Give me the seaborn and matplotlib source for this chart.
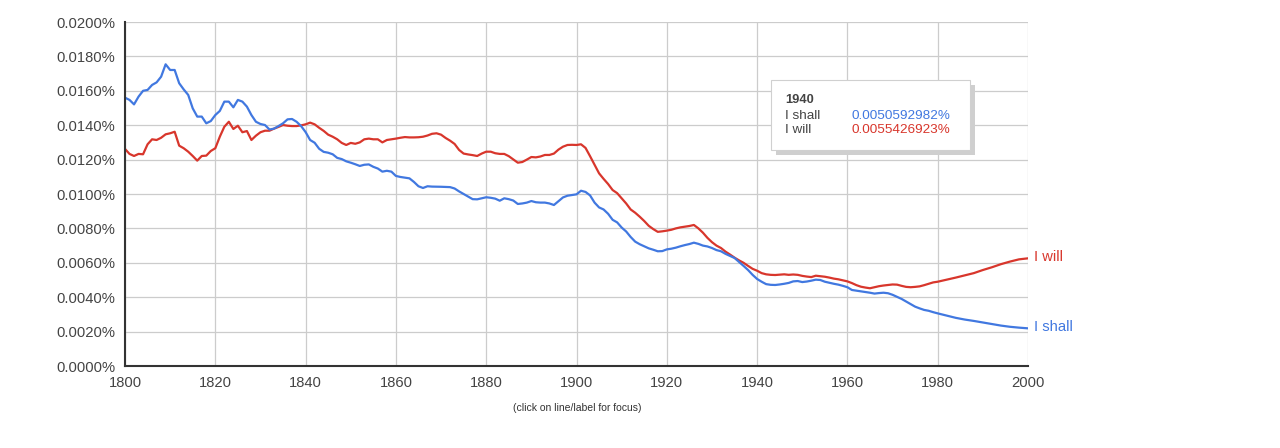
import matplotlib
matplotlib.use("Agg")
import matplotlib.pyplot as plt
from matplotlib.patches import Rectangle
from matplotlib.ticker import FuncFormatter, MultipleLocator
import seaborn as sns
import pandas as pd

# ---- data (values in percent) ----
shall_years = list(range(1800, 1869)) + [1870] + list(range(1872, 1981)) + list(range(1982, 2001, 2))
shall_vals = [
    0.01560, 0.01547, 0.01521, 0.01566, 0.01600, 0.01605, 0.01634, 0.01649, 0.01682, 0.01754,
    0.01721, 0.01721, 0.01644, 0.01608, 0.01576, 0.01498, 0.01450, 0.01450, 0.01411, 0.01424,
    0.01459, 0.01483, 0.01537, 0.01537, 0.01504, 0.01547, 0.01537, 0.01508, 0.01459, 0.01420,
    0.01407, 0.01401, 0.01375, 0.01380, 0.01395, 0.01411, 0.01434, 0.01436, 0.01420, 0.01395,
    0.01360, 0.01314, 0.01298, 0.01263, 0.01245, 0.01240, 0.01231, 0.01210, 0.01203, 0.01190,
    0.01182, 0.01173, 0.01163, 0.01170, 0.01172, 0.01158, 0.01148, 0.01130, 0.01135, 0.01130,
    0.01105, 0.01099, 0.01095, 0.01091, 0.01070, 0.01045, 0.01035, 0.01045, 0.01043,
    0.01042,
    0.01040, 0.01032, 0.01015, 0.01000, 0.00985, 0.00970, 0.00969, 0.00975,
    0.00981, 0.00978, 0.00973, 0.00961, 0.00975, 0.00970, 0.00962, 0.00942, 0.00945, 0.00950,
    0.00959, 0.00952, 0.00950, 0.00950, 0.00945, 0.00936, 0.00958, 0.00980, 0.00990, 0.00994,
    0.00998, 0.01019, 0.01012, 0.00992, 0.00950, 0.00922, 0.00910, 0.00885, 0.00850, 0.00835,
    0.00805, 0.00782, 0.00750, 0.00723, 0.00708, 0.00696, 0.00684, 0.00676, 0.00667, 0.00668,
    0.00678, 0.00682, 0.00688, 0.00696, 0.00703, 0.00709, 0.00717, 0.00710, 0.00700, 0.00695,
    0.00686, 0.00674, 0.00667, 0.00652, 0.00640, 0.00628, 0.00605, 0.00582, 0.00558, 0.00530,
    0.00506, 0.00490, 0.00476, 0.00472, 0.00471, 0.00474, 0.00478, 0.00483, 0.00492, 0.00494,
    0.00488, 0.00491, 0.00496, 0.00502, 0.00500, 0.00490, 0.00484, 0.00478, 0.00473, 0.00466,
    0.00458, 0.00442, 0.00438, 0.00434, 0.00430, 0.00426, 0.00421, 0.00424, 0.00426, 0.00423,
    0.00414, 0.00402, 0.00390, 0.00375, 0.00360, 0.00345, 0.00335, 0.00326, 0.00321, 0.00313,
    0.00306,
    0.00293, 0.00280, 0.00270, 0.00262, 0.00253, 0.00244, 0.00235, 0.00228, 0.00223, 0.00219,
]

will_years = list(range(1800, 1981)) + list(range(1982, 2001, 2))
will_vals = [
    0.01262, 0.01233, 0.01221, 0.01233, 0.01231, 0.01289, 0.01318, 0.01314, 0.01327, 0.01347,
    0.01353, 0.01362, 0.01281, 0.01266, 0.01246, 0.01221, 0.01194, 0.01221, 0.01223, 0.01250,
    0.01266, 0.01333, 0.01391, 0.01420, 0.01378, 0.01397, 0.01359, 0.01366, 0.01314, 0.01339,
    0.01359, 0.01368, 0.01368, 0.01380, 0.01390, 0.01401, 0.01397, 0.01395, 0.01395, 0.01399,
    0.01405, 0.01415, 0.01405, 0.01385, 0.01367, 0.01345, 0.01333, 0.01318, 0.01297, 0.01285,
    0.01297, 0.01292, 0.01300, 0.01318, 0.01322, 0.01318, 0.01318, 0.01300, 0.01314, 0.01318,
    0.01322, 0.01327, 0.01331, 0.01329, 0.01329, 0.01330, 0.01333, 0.01340, 0.01350, 0.01353,
    0.01345, 0.01326, 0.01310, 0.01291, 0.01256, 0.01235, 0.01230, 0.01226, 0.01221, 0.01235,
    0.01246, 0.01246, 0.01237, 0.01233, 0.01233, 0.01220, 0.01201, 0.01182, 0.01186, 0.01200,
    0.01215, 0.01213, 0.01218, 0.01227, 0.01227, 0.01235, 0.01258, 0.01275, 0.01285, 0.01286,
    0.01285, 0.01289, 0.01268, 0.01220, 0.01170, 0.01120, 0.01088, 0.01058, 0.01023, 0.01005,
    0.00975, 0.00945, 0.00910, 0.00891, 0.00868, 0.00843, 0.00815, 0.00796, 0.00780, 0.00783,
    0.00787, 0.00792, 0.00800, 0.00806, 0.00810, 0.00814, 0.00820, 0.00800, 0.00775, 0.00745,
    0.00720, 0.00700, 0.00686, 0.00665, 0.00648, 0.00630, 0.00614, 0.00600, 0.00582, 0.00565,
    0.00554, 0.00540, 0.00533, 0.00530, 0.00529, 0.00531, 0.00533, 0.00530, 0.00532, 0.00530,
    0.00524, 0.00520, 0.00517, 0.00525, 0.00522, 0.00519, 0.00514, 0.00508, 0.00504, 0.00498,
    0.00492, 0.00482, 0.00470, 0.00461, 0.00456, 0.00452, 0.00458, 0.00464, 0.00468, 0.00471,
    0.00474, 0.00473, 0.00466, 0.00460, 0.00458, 0.00460, 0.00463, 0.00470, 0.00478, 0.00486,
    0.00490,
    0.00502, 0.00514, 0.00527, 0.00540, 0.00558, 0.00574, 0.00592, 0.00607, 0.00620, 0.00626,
]

series_names = ["I shall", "I will"]
tooltip_year = "1940"
tooltip_values = ["0.0050592982%", "0.0055426923%"]
x_ticks = [1800, 1820, 1840, 1860, 1880, 1900, 1920, 1940, 1960, 1980, 2000]

BLUE = "#4178e0"
RED = "#d8362c"
TXT = "#444444"

sns.set_style("white")
plt.rcParams["font.family"] = ["Liberation Sans", "DejaVu Sans"]

W, H = 1280, 448
fig = plt.figure(figsize=(W / 100, H / 100), dpi=100)
ax = fig.add_axes([125 / W, 1 - 366 / H, (1028 - 125) / W, (366 - 22) / H])

df_shall = pd.DataFrame({"year": shall_years, "value": shall_vals})
df_will = pd.DataFrame({"year": will_years, "value": will_vals})
sns.lineplot(data=df_will, x="year", y="value", ax=ax, color=RED, linewidth=1.6)
sns.lineplot(data=df_shall, x="year", y="value", ax=ax, color=BLUE, linewidth=1.6)

ax.set_xlim(1800, 2000)
ax.set_ylim(0, 0.02)
ax.set_xticks(x_ticks)
ax.yaxis.set_major_locator(MultipleLocator(0.002))
ax.yaxis.set_major_formatter(FuncFormatter(lambda v, p: f"{v:.4f}%"))
ax.set_xlabel("")
ax.set_ylabel("")
ax.grid(True, color="#cccccc", linewidth=0.9)
ax.set_axisbelow(True)
for s in ["top", "right"]:
    ax.spines[s].set_visible(False)
for s in ["left", "bottom"]:
    ax.spines[s].set_color("#333333")
    ax.spines[s].set_linewidth(1.5)
ax.tick_params(axis="both", direction="out", length=5, width=1.2, color="#333333",
               labelsize=10.6, labelcolor=TXT, pad=2)

# end-of-line labels
ax.annotate(series_names[1], xy=(will_years[-1], will_vals[-1]), xytext=(4, 1),
            textcoords="offset points", color=RED, fontsize=10.6, va="center", ha="left",
            annotation_clip=False)
ax.annotate(series_names[0], xy=(shall_years[-1], shall_vals[-1]), xytext=(4, 1),
            textcoords="offset points", color=BLUE, fontsize=10.6, va="center", ha="left",
            annotation_clip=False)

fig.text(577 / W, 1 - 408 / H, "(click on line/label for focus)", fontsize=7.5,
         color="#333333", ha="center", va="center")

# tooltip box
def fx(px):
    return px / W

def fy(py):
    return 1 - py / H

shadow = Rectangle((fx(776), fy(155)), (975 - 776) / W, (155 - 85) / H,
                   transform=fig.transFigure, facecolor="#cfcfcf", edgecolor="none", zorder=5)
box = Rectangle((fx(771), fy(150)), (970 - 771) / W, (150 - 80) / H,
                transform=fig.transFigure, facecolor="white", edgecolor="#d0d0d0",
                linewidth=0.8, zorder=6)
fig.patches.extend([shadow, box])
fig.text(fx(785), fy(100), tooltip_year, fontsize=9.3, fontweight="bold", color="#444444",
         va="center", ha="left", zorder=7)
fig.text(fx(785), fy(116), series_names[0], fontsize=9.7, color="#444444", va="center", ha="left", zorder=7)
fig.text(fx(785), fy(130), series_names[1], fontsize=9.7, color="#444444", va="center", ha="left", zorder=7)
fig.text(fx(851), fy(116), tooltip_values[0], fontsize=9.7, color=BLUE, va="center", ha="left", zorder=7)
fig.text(fx(851), fy(130), tooltip_values[1], fontsize=9.7, color=RED, va="center", ha="left", zorder=7)

fig.savefig("out.png", dpi=100, facecolor="white")
